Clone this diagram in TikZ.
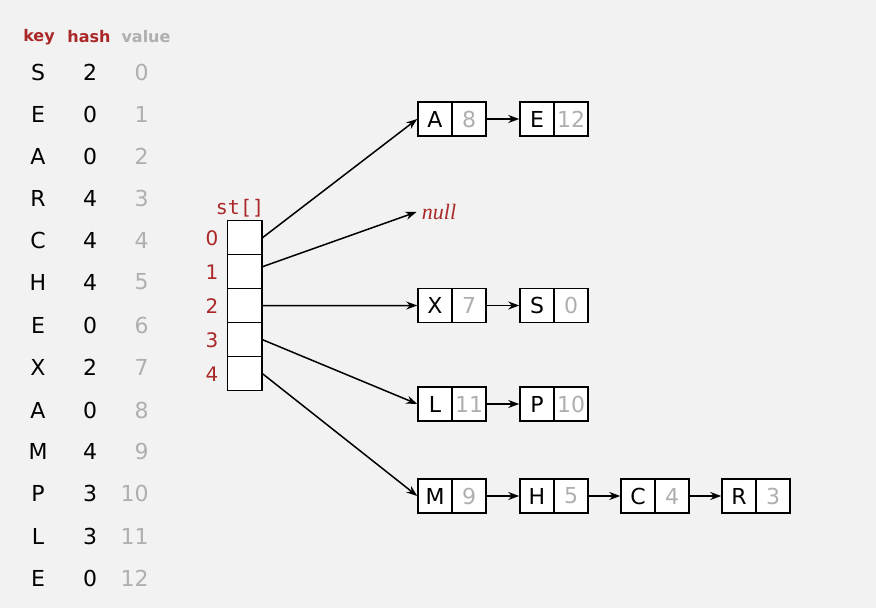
\documentclass[tikz,border=0pt]{standalone}
\usepackage{fontspec}
\setmainfont{DejaVu Sans}
\newfontfamily\stfont{DejaVu Sans Mono}
\newfontfamily\nullserif{Liberation Serif}
\usetikzlibrary{arrows.meta}
\definecolor{bookred}{RGB}{170,40,40}
\definecolor{valgray}{RGB}{175,175,175}
\definecolor{bggray}{RGB}{242,242,242}

\begin{document}
\begin{tikzpicture}
[x=0.5pt, y=-0.5pt, every node/.style={inner sep=0pt},
 txt/.style={font=\fontsize{11}{13}\selectfont},
 head/.style={font=\fontsize{8}{10}\selectfont\bfseries},
 val/.style={txt, text=valgray, anchor=east},
 idx/.style={font=\fontsize{10}{12}\selectfont, text=bookred},
 slot/.style={rectangle, minimum width=17.25pt, minimum height=17pt, draw=black, fill=white, line width=0.75pt},
 kcell/.style={rectangle, minimum size=17pt, draw=black, fill=white, line width=0.75pt, txt},
 vcell/.style={kcell, text=valgray},
 link/.style={line width=0.75pt, -{Stealth[length=5.5pt, width=4pt]}}]
\fill [bggray] (0,0) rectangle (876,608);
% input table
\node (keyhd) [head, text=bookred] at (39, 37) {key};
\node (hashhd) [head, text=bookred] at (89, 37) {hash};
\node (valhd) [head, text=valgray] at (146, 37) {value};
\node (k0) [txt] at (38, 72) {S}; \node (h0) [txt] at (90, 72) {2}; \node (v0) [val] at (149, 72) {0};
\node (k1) [txt] at (38, 114) {E}; \node (h1) [txt] at (90, 114) {0}; \node (v1) [val] at (149, 114) {1};
\node (k2) [txt] at (38, 156) {A}; \node (h2) [txt] at (90, 156) {0}; \node (v2) [val] at (149, 156) {2};
\node (k3) [txt] at (38, 198) {R}; \node (h3) [txt] at (90, 198) {4}; \node (v3) [val] at (149, 198) {3};
\node (k4) [txt] at (38, 240) {C}; \node (h4) [txt] at (90, 240) {4}; \node (v4) [val] at (149, 240) {4};
\node (k5) [txt] at (38, 282) {H}; \node (h5) [txt] at (90, 282) {4}; \node (v5) [val] at (149, 282) {5};
\node (k6) [txt] at (38, 325) {E}; \node (h6) [txt] at (90, 325) {0}; \node (v6) [val] at (149, 325) {6};
\node (k7) [txt] at (38, 367) {X}; \node (h7) [txt] at (90, 367) {2}; \node (v7) [val] at (149, 367) {7};
\node (k8) [txt] at (38, 410) {A}; \node (h8) [txt] at (90, 410) {0}; \node (v8) [val] at (149, 410) {8};
\node (k9) [txt] at (38, 451) {M}; \node (h9) [txt] at (90, 451) {4}; \node (v9) [val] at (149, 451) {9};
\node (k10) [txt] at (38, 493) {P}; \node (h10) [txt] at (90, 493) {3}; \node (v10) [val] at (149, 493) {10};
\node (k11) [txt] at (38, 536) {L}; \node (h11) [txt] at (90, 536) {3}; \node (v11) [val] at (149, 536) {11};
\node (k12) [txt] at (38, 578) {E}; \node (h12) [txt] at (90, 578) {0}; \node (v12) [val] at (149, 578) {12};
% the array st[]
\node (st) [idx, font=\fontsize{10}{12}\selectfont\stfont] at (240, 208) {st[]};
\node (c0) [slot] at (244.5, 237.7) {};
\node (c1) [slot] at (244.5, 271.7) {};
\node (c2) [slot] at (244.5, 305.7) {};
\node (c3) [slot] at (244.5, 339.7) {};
\node (c4) [slot] at (244.5, 373.7) {};
\node (i0) [idx] at (212, 238) {0};
\node (i1) [idx] at (212, 272) {1};
\node (i2) [idx] at (212, 306) {2};
\node (i3) [idx] at (212, 340) {3};
\node (i4) [idx] at (212, 374) {4};
% chains
\node (A) [kcell] at (435, 119) {A}; \node (Aval) [vcell] at (469, 119) {8};
\node (E) [kcell] at (537, 119) {E}; \node (Eval) [vcell] at (571, 119) {12};
\node (null) [txt, inner sep=2.5pt, text=bookred, font=\fontsize{11}{13}\selectfont\nullserif\itshape] at (439, 212) {null};
\node (X) [kcell] at (435, 305.5) {X}; \node (Xval) [vcell] at (469, 305.5) {7};
\node (S) [kcell] at (537, 305.5) {S}; \node (Sval) [vcell] at (571, 305.5) {0};
\node (L) [kcell] at (435, 404) {L}; \node (Lval) [vcell] at (469, 404) {11};
\node (P) [kcell] at (537, 404) {P}; \node (Pval) [vcell] at (571, 404) {10};
\node (M) [kcell] at (435, 496) {M}; \node (Mval) [vcell] at (469, 496) {9};
\node (H) [kcell] at (537, 496) {H}; \node (Hval) [vcell] at (571, 496) {5};
\node (C) [kcell] at (638, 496) {C}; \node (Cval) [vcell] at (672, 496) {4};
\node (R) [kcell] at (739, 496) {R}; \node (Rval) [vcell] at (773, 496) {3};
\draw [link] (c0.east) to (A.west);
\draw [link] ([yshift=2.5pt]c1.east) to (null.west);
\draw [link] (c2.east) to (X.west);
\draw [link] (c3.east) to (L.west);
\draw [link] (c4.east) to (M.west);
\draw [link] (Aval) to (E);
\draw [link] (Xval) to (S);
\draw [link] (Lval) to (P);
\draw [link] (Mval) to (H);
\draw [link] (Hval) to (C);
\draw [link] (Cval) to (R);
\end{tikzpicture}
\end{document}
